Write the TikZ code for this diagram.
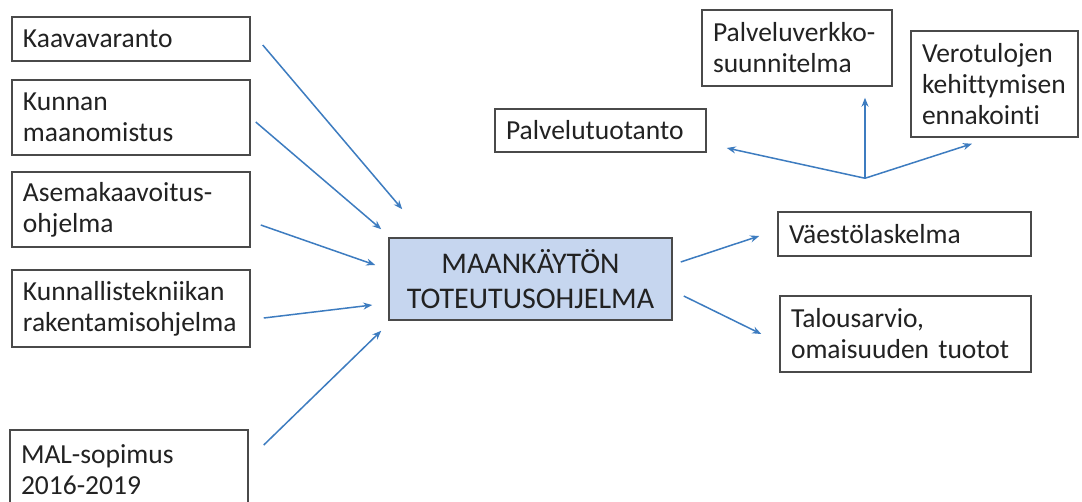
\documentclass[tikz,border=0pt]{standalone}
\usepackage{fontspec}
\setmainfont{Carlito}[Ligatures=NoCommon]
\usetikzlibrary{arrows.meta}
\definecolor{arrowblue}{HTML}{3D7CC0}
\definecolor{boxline}{HTML}{4A4A4A}
\definecolor{mainfill}{HTML}{C6D6EF}
\definecolor{txt}{HTML}{222222}
\tikzset{
  box/.style={draw=boxline, line width=1.5pt, fill=white, text=txt, align=left,
    inner xsep=11pt, inner ysep=0pt,
    font=\fontsize{27.5pt}{31pt}\selectfont},
  mainbox/.style={draw=boxline, line width=1.5pt, fill=mainfill, text=txt, align=center,
    inner sep=0pt, minimum width=283pt, minimum height=82pt,
    font=\fontsize{30pt}{35pt}\selectfont},
  arr/.style={draw=arrowblue, line width=1.5pt, -{Stealth[length=9pt,width=7pt]}}
}
\begin{document}
\begin{tikzpicture}[x=1pt,y=-1pt]
\clip (0,0) rectangle (1082,501);
\fill[white] (0,0) rectangle (1082,501);

% left boxes
\node[box, minimum width=238pt, minimum height=44pt, text width=216pt] (kaava) at (131,39) {Kaavavaranto};
\node[box, minimum width=238pt, minimum height=75pt, text width=216pt] (kunnan) at (131,117.5) {Kunnan\\maanomistus};
\node[box, minimum width=238pt, minimum height=75pt, text width=216pt] (asema) at (131,209.5) {Asemakaavoitus-\\ohjelma};
\node[box, minimum width=238pt, minimum height=77pt, text width=216pt] (kunnal) at (131,308.5) {Kunnallistekniikan\\rakentamisohjelma};
\node[box, minimum width=238pt, minimum height=80pt, text width=216pt] (mal) at (129,470) {MAL-sopimus\\2016-2019};

% central box
\node[mainbox] (main) at (530.5,279) {MAANKÄYTÖN\\TOTEUTUSOHJELMA};

% right boxes
\node[box, minimum width=211pt, minimum height=43pt, text width=189pt] (palvt) at (600.5,130.5) {Palvelutuotanto};
\node[box, minimum width=190pt, minimum height=76pt, text width=168pt] (pverkko) at (797,48) {Palveluverkko-\\suunnitelma};
\node[box, minimum width=167pt, minimum height=106pt, text width=145pt] (vero) at (994.5,84) {Verotulojen\\kehittymisen\\ennakointi};
\node[box, minimum width=253pt, minimum height=44pt, text width=231pt] (vaesto) at (904.5,234) {Väestölaskelma};
\node[box, minimum width=251pt, minimum height=76pt, text width=229pt] (talous) at (905.5,334) {Talousarvio,\\omaisuuden tuotot};

% incoming arrows
\draw[arr] ([shift={(12,6)}]kaava.east) -- ([shift={(14,-28)}]main.north west);
\draw[arr] ([shift={(5,4.5)}]kunnan.east) -- ([shift={(-7,-8)}]main.north west);
\draw[arr] ([shift={(10,15.5)}]asema.east) -- ([shift={(-13,-14)}]main.west);
\draw[arr] ([shift={(13,9.5)}]kunnal.east) -- ([shift={(-16,26)}]main.west);
\draw[arr] ([shift={(15,-25)}]mal.east) -- ([shift={(-7,10)}]main.south west);

% outgoing arrows
\draw[arr] ([shift={(8,-17)}]main.east) -- ([shift={(-18,2)}]vaesto.west);
\draw[arr] ([shift={(11,17)}]main.east) -- ([shift={(-18,0)}]talous.west);

% fan from above Väestölaskelma
\coordinate (hub) at ([shift={(-39.5,-33)}]vaesto.north);
\draw[arr] (hub) -- ([shift={(20,17.5)}]palvt.east);
\draw[arr] (hub) -- ([shift={(68,11)}]pverkko.south);
\draw[arr] (hub) -- ([shift={(-22.5,6)}]vero.south);
\end{tikzpicture}
\end{document}
